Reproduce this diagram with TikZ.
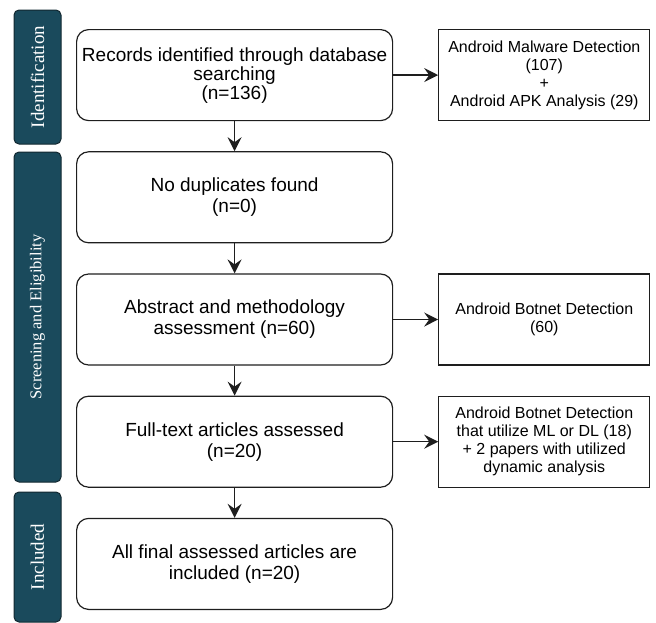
\documentclass[tikz,border=0pt]{standalone}
\usepackage{fontspec}
\setmainfont{Liberation Serif}
\setsansfont{Liberation Sans}
\usetikzlibrary{positioning, arrows.meta}
\definecolor{phasecol}{RGB}{26,74,92}
\definecolor{phaseedge}{RGB}{18,40,48}
\definecolor{linecol}{RGB}{30,30,30}

\begin{document}
\begin{tikzpicture}[
    x=1pt, y=1pt,
    stage/.style={rectangle, rounded corners=12pt, draw=linecol, line width=1.2pt, align=center,
        minimum width=316pt, minimum height=91pt, inner sep=2pt,
        font=\sffamily\fontsize{19}{21}\selectfont},
    note/.style={rectangle, draw=linecol, line width=1.2pt, align=center,
        minimum width=211pt, minimum height=91pt, inner sep=2pt,
        font=\sffamily\fontsize{16}{18}\selectfont},
    phase/.style={rectangle, rounded corners=5pt, fill=phasecol, draw=phaseedge, line width=1pt,
        text=white, minimum height=47pt, rotate=90, inner sep=0pt,
        font=\rmfamily\fontsize{19}{20}\selectfont},
    flow/.style={-{Stealth[length=14pt, width=14pt, inset=5pt]}, line width=1.5pt, draw=linecol}
]
\useasboundingbox (0,0) rectangle (656,-622);

% main column
\node[stage, anchor=north west, font=\sffamily\fontsize{19}{19}\selectfont] (records) at (76,-29) {Records identified through database\\searching\\(n=136)};
\node[stage, below=30pt of records] (duplicates) {No duplicates found\\(n=0)};
\node[stage, below=30pt of duplicates] (abstract) {Abstract and methodology\\assessment (n=60)};
\node[stage, below=30pt of abstract] (fulltext) {Full-text articles assessed\\(n=20)};
\node[stage, below=30pt of fulltext] (included) {All final assessed articles are\\included (n=20)};

% side notes
\node[note, right=45pt of records] (searchnote) {Android Malware Detection\\(107)\\+\\Android APK Analysis (29)};
\node[note, right=45pt of abstract] (botnetnote) {Android Botnet Detection\\(60)};
\node[note, right=45pt of fulltext] (mlnote) {Android Botnet Detection\\that utilize ML or DL (18)\\+ 2 papers with utilized\\dynamic analysis};

% phase bars
\node[phase, minimum width=134pt] (identbar) at (37.5,-77) {Identification};
\node[phase, minimum width=330pt, font=\rmfamily\fontsize{16.5}{18}\selectfont] (screenbar) at (37.5,-317) {Screening and Eligibility};
\node[phase, minimum width=130pt] (inclbar) at (37.5,-557) {Included};

% arrows
\draw[flow] (records) -- (duplicates);
\draw[flow] (duplicates) -- (abstract);
\draw[flow] (abstract) -- (fulltext);
\draw[flow] (fulltext) -- (included);
\draw[flow] (records) -- (searchnote);
\draw[flow] (abstract) -- (botnetnote);
\draw[flow] (fulltext) -- (mlnote);

\end{tikzpicture}
\end{document}
